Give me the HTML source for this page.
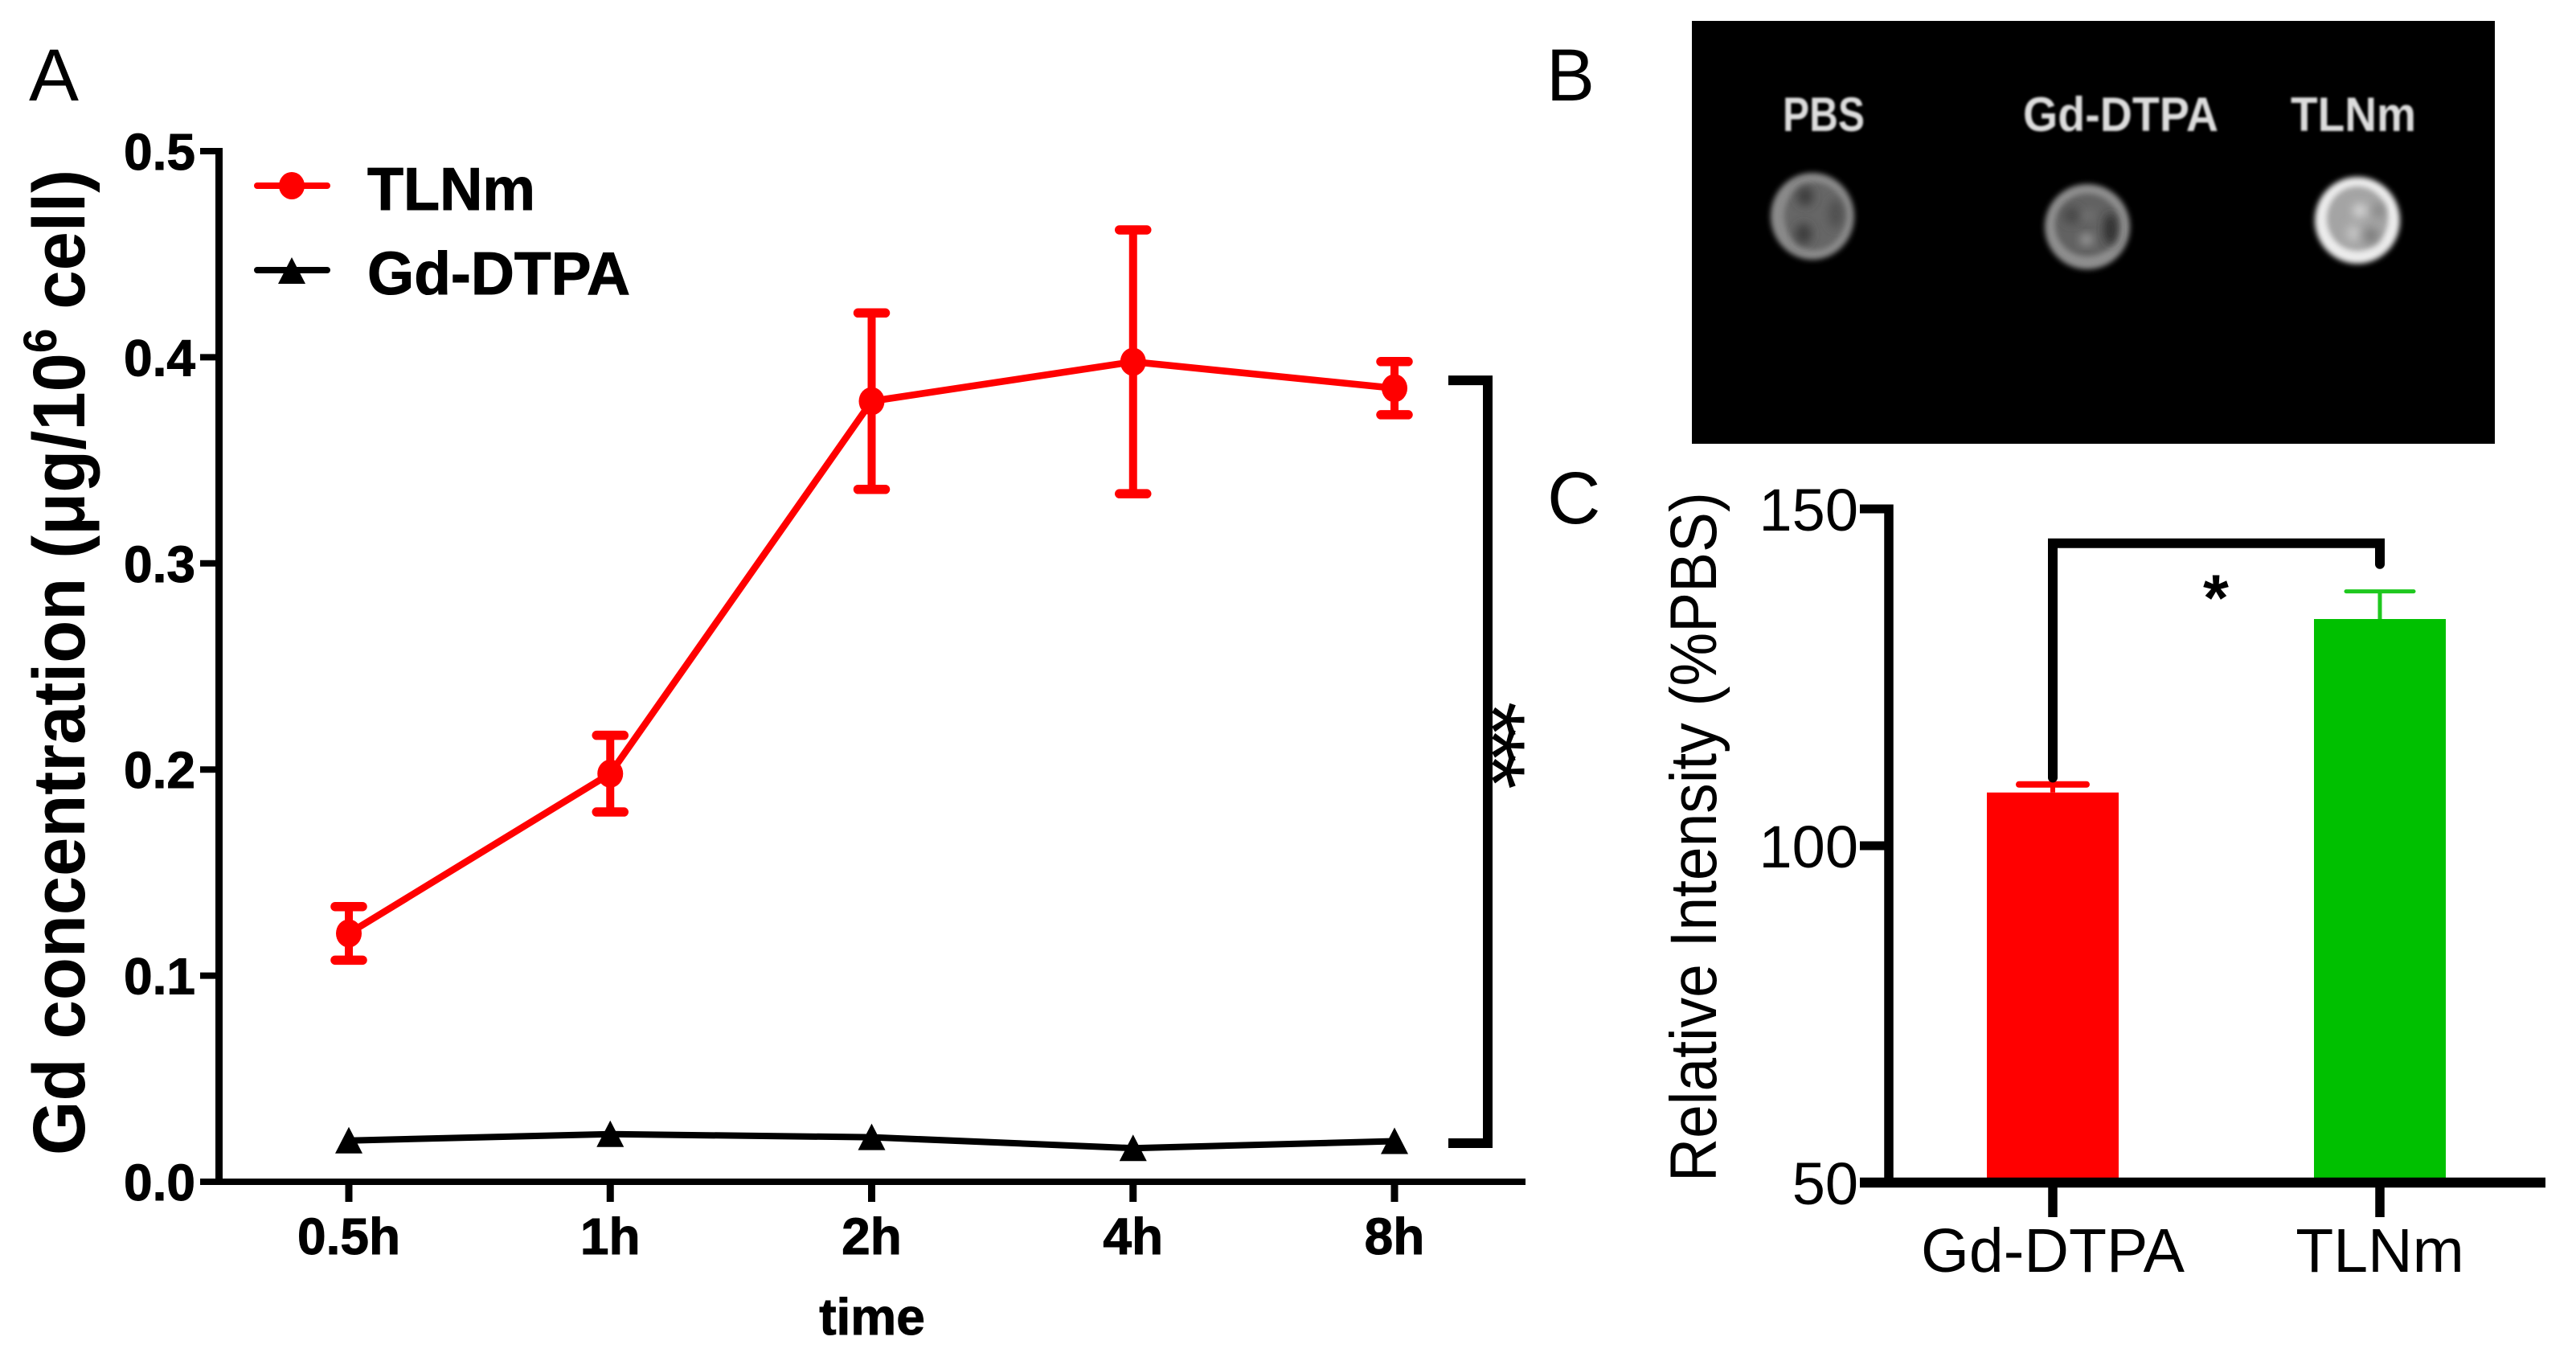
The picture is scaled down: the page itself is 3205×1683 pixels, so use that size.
<!DOCTYPE html>
<html lang="en">
<head>
<meta charset="utf-8">
<title>Gd uptake and MR intensity figure</title>
<style>
html,body{margin:0;padding:0;background:#fff;}
svg{display:block;font-family:"Liberation Sans",Arial,sans-serif;}
</style>
</head>
<body>
<svg id="fig" xmlns="http://www.w3.org/2000/svg" width="3205" height="1683" viewBox="0 0 3205 1683">
  <defs>
    <filter id="blobBlur" x="-30%" y="-30%" width="160%" height="160%"><feGaussianBlur stdDeviation="3.5"/></filter>
    <filter id="spotBlur" x="-60%" y="-60%" width="220%" height="220%"><feGaussianBlur stdDeviation="6"/></filter>
    <filter id="labelBlur" x="-5%" y="-20%" width="110%" height="140%"><feGaussianBlur stdDeviation="1.3"/></filter>
  </defs>
  <rect x="0" y="0" width="3205" height="1683" fill="#fff"/>

  <text x="36" y="125" font-size="92" fill="#000" textLength="62" lengthAdjust="spacingAndGlyphs">A</text>
  <text x="1924" y="125" font-size="92" fill="#000" textLength="60" lengthAdjust="spacingAndGlyphs">B</text>
  <text x="1925" y="651" font-size="92" fill="#000">C</text>

  <g id="chartA"></g>

  <g>
    <g>
      <line x1="320" y1="231" x2="407" y2="231" stroke="#f00" stroke-width="8" stroke-linecap="round"/>
      <ellipse cx="363" cy="231" rx="16" ry="17" fill="#f00"/>
      <text x="457" y="261" font-size="75" font-weight="bold" stroke="#000" stroke-width="1" textLength="209" lengthAdjust="spacingAndGlyphs">TLNm</text>
    </g>
    <g>
      <line x1="320" y1="336" x2="407" y2="336" stroke="#000" stroke-width="8" stroke-linecap="round"/>
      <polygon points="363,320 380,353 346,353" fill="#000"/>
      <text x="457" y="366" font-size="75" font-weight="bold" stroke="#000" stroke-width="1" textLength="327" lengthAdjust="spacingAndGlyphs">Gd-DTPA</text>
    </g>
  </g>

  <text transform="translate(105,1437) rotate(-90)" x="0" y="0" font-size="92" font-weight="bold" textLength="1226" lengthAdjust="spacingAndGlyphs">Gd concentration (μg/10<tspan font-size="58" dy="-35">6</tspan><tspan dy="35"> cell)</tspan></text>
  <text x="1085" y="1660" font-size="64" font-weight="bold" stroke="#000" stroke-width="1" text-anchor="middle">time</text>
  <text transform="translate(1817,921) rotate(90)" x="0" y="0" font-size="115" letter-spacing="-12.7" text-anchor="middle">***</text>

  <g>
    <rect x="2105" y="26" width="999" height="526" fill="#000"/>
    <g filter="url(#labelBlur)" font-size="60" font-weight="bold" fill="#dcdcdc">
      <text x="2218" y="163" textLength="102" lengthAdjust="spacingAndGlyphs">PBS</text>
      <text x="2517" y="163" textLength="243" lengthAdjust="spacingAndGlyphs">Gd-DTPA</text>
      <text x="2850" y="163" textLength="156" lengthAdjust="spacingAndGlyphs">TLNm</text>
    </g>
    <g>
      <ellipse cx="2255" cy="269" rx="52" ry="54" fill="#8a8a8a" filter="url(#blobBlur)"/>
      <ellipse cx="2258" cy="269" rx="38" ry="42" fill="#666" filter="url(#blobBlur)"/>
      <ellipse cx="2246" cy="244" rx="10" ry="12" fill="#3a3a3a" filter="url(#spotBlur)"/>
      <ellipse cx="2244" cy="291" rx="10" ry="13" fill="#3a3a3a" filter="url(#spotBlur)"/>
      <ellipse cx="2284" cy="266" rx="9" ry="18" fill="#505050" filter="url(#spotBlur)"/>
    </g>
    <g>
      <ellipse cx="2597" cy="282" rx="53" ry="53" fill="#8e8e8e" filter="url(#blobBlur)"/>
      <ellipse cx="2597" cy="280" rx="40" ry="39" fill="#626262" filter="url(#blobBlur)"/>
      <ellipse cx="2626" cy="285" rx="8" ry="20" fill="#2a2a2a" filter="url(#spotBlur)"/>
      <ellipse cx="2578" cy="268" rx="11" ry="10" fill="#464646" filter="url(#spotBlur)"/>
      <ellipse cx="2596" cy="298" rx="7" ry="6" fill="#b0b0b0" filter="url(#spotBlur)"/>
      <ellipse cx="2598" cy="268" rx="8" ry="6" fill="#767676" filter="url(#spotBlur)"/>
    </g>
    <g>
      <ellipse cx="2933" cy="274" rx="53" ry="54" fill="#ececec" filter="url(#blobBlur)"/>
      <ellipse cx="2933" cy="272" rx="38" ry="40" fill="#a4a4a4" filter="url(#blobBlur)"/>
      <ellipse cx="2936" cy="262" rx="8" ry="8" fill="#dedede" filter="url(#spotBlur)"/>
      <ellipse cx="2928" cy="290" rx="8" ry="10" fill="#c8c8c8" filter="url(#spotBlur)"/>
      <ellipse cx="2950" cy="293" rx="9" ry="10" fill="#7a7a7a" filter="url(#spotBlur)"/>
      <ellipse cx="2960" cy="262" rx="6" ry="9" fill="#808080" filter="url(#spotBlur)"/>
    </g>
  </g>

  <g id="chartC"></g>
  <text transform="translate(2135,1470) rotate(-90)" x="0" y="0" font-size="82" textLength="858" lengthAdjust="spacingAndGlyphs">Relative Intensity (%PBS)</text>
  <text x="2757" y="772" font-size="82" font-weight="bold" text-anchor="middle">*</text>
</svg>

<script>
// ---- Panel A data ----
const timeCategories = ['0.5h', '1h', '2h', '4h', '8h'];
const tlnmValues = [0.1205, 0.198, 0.3787, 0.3978, 0.385];
const tlnmErrors = [0.013, 0.0186, 0.0428, 0.064, 0.0129];
const gdValues = [0.02, 0.0231, 0.0216, 0.0163, 0.0197];
const uptakeTicks = ['0.0', '0.1', '0.2', '0.3', '0.4', '0.5'];
const uptakeBracket = [0.3888, 0.0187];

// ---- Panel C data ----
const barCategories = ['Gd-DTPA', 'TLNm'];
const barValues = [107.9, 133.65];
const barErrors = [1.2, 4.1];
const intensityTicks = ['50', '100', '150'];
const intensityBracket = [110.1, 144.9, 141.8];

const NS = 'http://www.w3.org/2000/svg';
function mk(parent, tag, attrs, text) {
  const el = document.createElementNS(NS, tag);
  for (const k in attrs) el.setAttribute(k, attrs[k]);
  if (text !== undefined) el.textContent = text;
  parent.appendChild(el);
  return el;
}

// ---- Panel A axes ----
const xA = i => 434 + 325.25 * i;
const yA = v => 1470 - v * 2564;
const chartA = document.getElementById('chartA');

const axisYA = mk(chartA, 'line', {x1: 272.5, y1: yA(0.5) - 4, x2: 272.5, y2: yA(0) + 4, stroke: '#000', 'stroke-width': 9});


const axisXA = mk(chartA, 'line', {x1: 249, y1: yA(0), x2: 1898, y2: yA(0), stroke: '#000', 'stroke-width': 8});



uptakeTicks.forEach(t => {
  const v = parseFloat(t);
  const tick = mk(chartA, 'line', {x1: 249, y1: yA(v), x2: 272, y2: yA(v), stroke: '#000', 'stroke-width': 8});
  
  
  const label = mk(chartA, 'text', {x: 243, y: yA(v) + 23, 'font-size': 64, 'font-weight': 'bold', stroke: '#000', 'stroke-width': 1, 'text-anchor': 'end'}, t);
  
  
});

timeCategories.forEach((c, i) => {
  const tick = mk(chartA, 'line', {x1: xA(i), y1: yA(0), x2: xA(i), y2: 1495, stroke: '#000', 'stroke-width': 9});
  
  
  const label = mk(chartA, 'text', {x: xA(i), y: 1560, 'font-size': 64, 'font-weight': 'bold', stroke: '#000', 'stroke-width': 1, 'text-anchor': 'middle'}, c);
  
  
});

// ---- Panel A series ----
const redLine = mk(chartA, 'polyline', {points: tlnmValues.map((v, i) => xA(i) + ',' + yA(v)).join(' '), fill: 'none', stroke: '#f00', 'stroke-width': 8.5, 'stroke-linejoin': 'round'});



tlnmValues.forEach((v, i) => {
  const e = tlnmErrors[i];
  const bar = mk(chartA, 'line', {x1: xA(i), y1: yA(v + e), x2: xA(i), y2: yA(v - e), stroke: '#f00', 'stroke-width': 10});
  
  
  const capTop = mk(chartA, 'line', {x1: xA(i) - 17, y1: yA(v + e), x2: xA(i) + 17, y2: yA(v + e), stroke: '#f00', 'stroke-width': 11.5, 'stroke-linecap': 'round'});
  
  
  const capBottom = mk(chartA, 'line', {x1: xA(i) - 17, y1: yA(v - e), x2: xA(i) + 17, y2: yA(v - e), stroke: '#f00', 'stroke-width': 11.5, 'stroke-linecap': 'round'});
  
  
  const dot = mk(chartA, 'ellipse', {cx: xA(i), cy: yA(v), rx: 16, ry: 17.5, fill: '#f00'});
  
  
});

const blackLine = mk(chartA, 'polyline', {points: gdValues.map((v, i) => xA(i) + ',' + yA(v)).join(' '), fill: 'none', stroke: '#000', 'stroke-width': 8, 'stroke-linejoin': 'round'});



gdValues.forEach((v, i) => {
  const x = xA(i), y = yA(v);
  const tri = mk(chartA, 'polygon', {points: x + ',' + (y - 17) + ' ' + (x + 17) + ',' + (y + 16) + ' ' + (x - 17) + ',' + (y + 16), fill: '#000'});
  
  
});

const bracketA = mk(chartA, 'path', {d: 'M1802 ' + yA(uptakeBracket[0]) + ' H1851 V' + yA(uptakeBracket[1]) + ' H1802', fill: 'none', stroke: '#000', 'stroke-width': 12});



// ---- Panel C axes ----
const xC = i => 2554 + 407 * i;
const yC = v => 1471 - (v - 50) * 8.38;
const chartC = document.getElementById('chartC');

barValues.forEach((v, i) => {
  const bar = mk(chartC, 'rect', {x: xC(i) - 82, y: yC(v), width: 164, height: yC(50) - yC(v), fill: i === 0 ? '#f00' : '#00c000'});
  
  
  const color = i === 0 ? '#f00' : '#1fc81f';
  const sw = i === 0 ? 8 : 5;
  const stem = mk(chartC, 'line', {x1: xC(i), y1: yC(v), x2: xC(i), y2: yC(v + barErrors[i]), stroke: color, 'stroke-width': i === 0 ? 6 : 5});
  
  
  const cap = mk(chartC, 'line', {x1: xC(i) - 42, y1: yC(v + barErrors[i]), x2: xC(i) + 42, y2: yC(v + barErrors[i]), stroke: color, 'stroke-width': sw, 'stroke-linecap': 'round'});
  
  
});

const axisYC = mk(chartC, 'line', {x1: 2350, y1: yC(150) - 5.5, x2: 2350, y2: yC(50), stroke: '#000', 'stroke-width': 11.5});


const axisXC = mk(chartC, 'line', {x1: 2314, y1: yC(50), x2: 3167, y2: yC(50), stroke: '#000', 'stroke-width': 12.5});



intensityTicks.forEach(t => {
  const v = parseFloat(t);
  const tick = mk(chartC, 'line', {x1: 2314, y1: yC(v), x2: 2350, y2: yC(v), stroke: '#000', 'stroke-width': 11});
  
  
  const label = mk(chartC, 'text', {x: 2312, y: yC(v) + 27, 'font-size': 74, 'text-anchor': 'end'}, t);
  
  
});

barCategories.forEach((c, i) => {
  const tick = mk(chartC, 'line', {x1: xC(i), y1: yC(50), x2: xC(i), y2: 1514, stroke: '#000', 'stroke-width': 11.5});
  
  
  const label = mk(chartC, 'text', {x: xC(i), y: 1582, 'font-size': 77, 'text-anchor': 'middle'}, c);
  
  
});

const bracketC = mk(chartC, 'path', {d: 'M' + xC(0) + ' ' + yC(intensityBracket[0]) + ' V' + yC(intensityBracket[1]) + ' H' + xC(1) + ' V' + yC(intensityBracket[2]), fill: 'none', stroke: '#000', 'stroke-width': 12, 'stroke-linecap': 'round', 'stroke-linejoin': 'miter'});


</script>
</body>
</html>
